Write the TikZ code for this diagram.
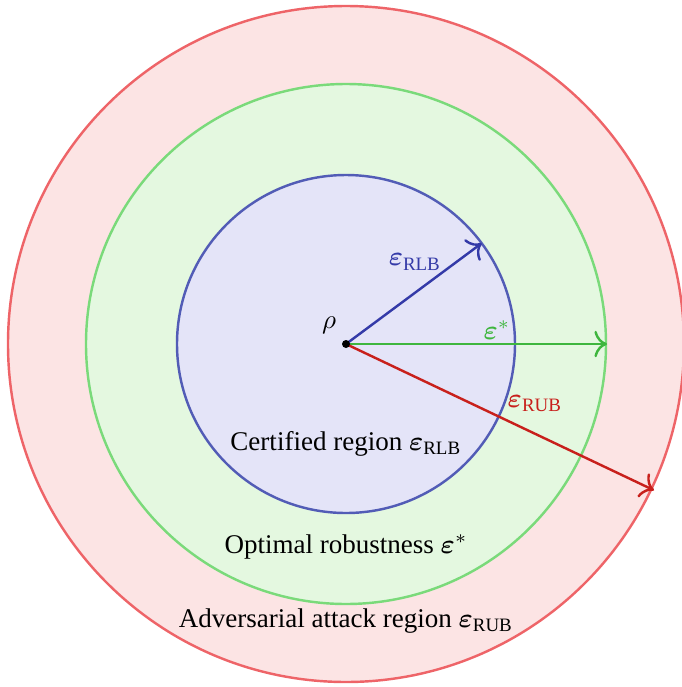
\documentclass[tikz,border=0pt]{standalone}
\usepackage{amsmath}
\usepackage{fontspec}
\setmainfont{Liberation Serif}
\usetikzlibrary{positioning}
\usetikzlibrary{arrows.meta}
\definecolor{attackfill}{RGB}{252,228,228}
\definecolor{attackline}{RGB}{238,100,104}
\definecolor{optfill}{RGB}{228,248,224}
\definecolor{optline}{RGB}{122,218,122}
\definecolor{certfill}{RGB}{228,228,248}
\definecolor{certline}{RGB}{82,92,182}
\definecolor{rlbcol}{RGB}{52,58,168}
\definecolor{starcol}{RGB}{62,182,62}
\definecolor{rubcol}{RGB}{200,32,28}
\newcommand{\epsb}{\boldsymbol{\varepsilon}}
\tikzset{%
    region/.style={draw, line width=0.9pt},
    ray/.style={draw, line width=0.9pt, -{To[scale=1.3]}},
    caption/.style={inner sep=1pt}
}

\begin{document}
\begin{tikzpicture}[x=0.37pt, y=-0.37pt]
    \useasboundingbox (0,0) rectangle (681,687);
    \coordinate (rho) at (346,344);
    % nested regions
    \filldraw[region, fill=attackfill, draw=attackline] (rho) circle [radius=338];
    \filldraw[region, fill=optfill, draw=optline] (rho) circle [radius=260];
    \filldraw[region, fill=certfill, draw=certline] (rho) circle [radius=169];
    % radii
    \path (rho) ++(-36.6:169) coordinate (rlb end);
    \path (rho) ++(0:261) coordinate (star end);
    \path (rho) ++(25.4:341) coordinate (rub end);
    \draw[ray, rlbcol] (rho) -- (rlb end);
    \draw[ray, starcol] (rho) -- (star end);
    \draw[ray, rubcol] (rho) -- (rub end);
    \fill (rho) circle [radius=4];
    % labels
    \node[caption] (rho label) at (329,325) {$\rho$};
    \node[caption, text=rlbcol] (rlb label) at (415,262) {$\epsb_{\mathrm{RLB}}$};
    \node[caption, text=starcol] (star label) at (497,330) {$\epsb^{*}$};
    \node[caption, text=rubcol] (rub label) at (535,404) {$\epsb_{\mathrm{RUB}}$};
    \node[caption] (cert text) at (346,444) {Certified region $\epsb_{\mathrm{RLB}}$};
    \node[caption] (opt text) at (346,547) {Optimal robustness $\epsb^{*}$};
    \node[caption] (attack text) at (346,621) {Adversarial attack region $\epsb_{\mathrm{RUB}}$};
\end{tikzpicture}
\end{document}
